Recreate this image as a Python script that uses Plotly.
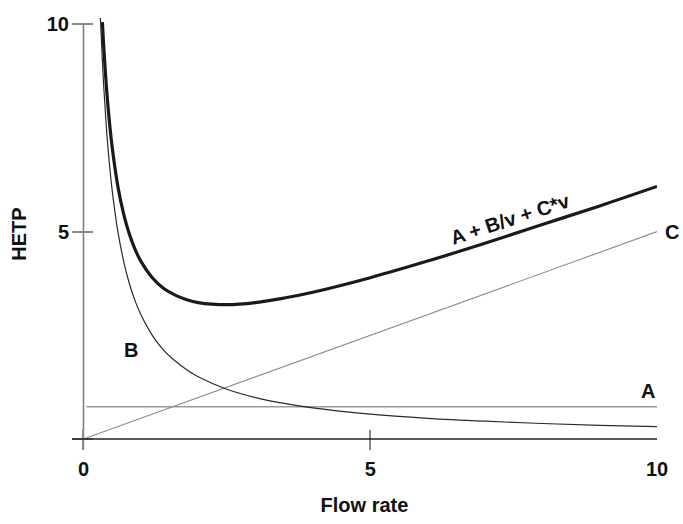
import plotly.graph_objects as go

# Flow rate samples
v_b = [0.29, 0.30, 0.35, 0.40, 0.45, 0.50, 0.60, 0.70, 0.80, 0.90, 1.0, 1.2, 1.4, 1.6, 1.8,
       2.0, 2.5, 3.0, 3.5, 4.0, 5.0, 6.0, 7.0, 8.0, 9.0, 10.0]
hetp_b = [10.3, 10.0, 8.57, 7.5, 6.67, 6.0, 5.0, 4.29, 3.75, 3.33, 3.0, 2.5, 2.14, 1.88, 1.67,
          1.5, 1.2, 1.0, 0.86, 0.75, 0.6, 0.5, 0.43, 0.375, 0.33, 0.3]

v_tot = [0.33, 0.35, 0.40, 0.45, 0.50, 0.60, 0.70, 0.80, 0.90, 1.0, 1.2, 1.4, 1.6, 1.8,
         2.0, 2.5, 3.0, 3.5, 4.0, 5.0, 6.0, 7.0, 8.0, 9.0, 10.0]
hetp_tot = [10.05, 9.54, 8.49, 7.68, 7.04, 6.09, 5.43, 4.94, 4.57, 4.29, 3.89, 3.63, 3.47, 3.36,
            3.29, 3.24, 3.29, 3.40, 3.54, 3.89, 4.29, 4.72, 5.17, 5.62, 6.09]

v_c = [0.0, 10.0]
hetp_c = [0.0, 5.0]

v_a = [0.05, 10.0]
hetp_a = [0.78, 0.78]

x_ticks = [0, 5, 10]
x_ticklabels = ["0", "5", "10"]
y_ticks = [0, 5, 10]
y_ticklabels = ["", "5", "10"]

X_MIN, X_MAX = -0.2, 10.0
Y_MIN, Y_MAX = -0.264, 10.15

FONT = "Liberation Sans"
SIZE = 20

fig = go.Figure()
fig.add_trace(go.Scatter(x=v_a, y=hetp_a, mode="lines",
                         line=dict(color="#9a9a9a", width=1.6), hoverinfo="skip"))
fig.add_trace(go.Scatter(x=v_c, y=hetp_c, mode="lines",
                         line=dict(color="#8c8c8c", width=1.1), hoverinfo="skip"))
fig.add_trace(go.Scatter(x=v_b, y=hetp_b, mode="lines", line_shape="spline",
                         line=dict(color="#2a2a2a", width=1.2), hoverinfo="skip"))
fig.add_trace(go.Scatter(x=v_tot, y=hetp_tot, mode="lines", line_shape="spline",
                         line=dict(color="#1a1a1a", width=3.2), hoverinfo="skip"))

# axis lines
fig.add_shape(type="line", xref="x", yref="y", x0=0, x1=0, y0=Y_MIN, y1=10,
              line=dict(color="#7a7a7a", width=1.5), layer="below")
fig.add_shape(type="line", xref="x", yref="y", x0=X_MIN, x1=10, y0=0, y1=0,
              line=dict(color="#222222", width=1.6), layer="above")

lab = dict(family=FONT, size=SIZE, color="#111111", weight="bold")
fig.add_annotation(x=7.44, y=5.30, xref="x", yref="y", text="A + B/v + C*v",
                   showarrow=False, textangle=-18, font=lab)
fig.add_annotation(x=0.83, y=2.14, xref="x", yref="y", text="B",
                   showarrow=False, font=lab)
fig.add_annotation(x=9.84, y=1.15, xref="x", yref="y", text="A",
                   showarrow=False, font=lab)
fig.add_annotation(x=(10.42 - X_MIN) / (X_MAX - X_MIN), y=4.99, xref="paper", yref="y",
                   text="C", showarrow=False, font=lab)

fig.update_layout(
    width=683, height=524,
    margin=dict(l=72, r=26, t=18, b=72),
    paper_bgcolor="white", plot_bgcolor="white",
    showlegend=False,
    font=dict(family=FONT, size=SIZE, color="#111111", weight="bold"),
    xaxis=dict(range=[X_MIN, X_MAX], tickvals=x_ticks, ticktext=x_ticklabels,
               ticks="inside", ticklen=20, tickwidth=1.5, tickcolor="#8a8a8a",
               ticklabelstandoff=5,
               tickfont=dict(family=FONT, size=SIZE, color="#111111", weight="bold"),
               showgrid=False, zeroline=False, showline=False,
               title=dict(text="Flow rate", standoff=18,
                          font=dict(family=FONT, size=SIZE, color="#111111", weight="bold"))),
    yaxis=dict(range=[Y_MIN, Y_MAX], tickvals=y_ticks, ticktext=y_ticklabels,
               ticks="inside", ticklen=21, tickwidth=1.5, tickcolor="#8a8a8a",
               ticklabelstandoff=2,
               tickfont=dict(family=FONT, size=SIZE, color="#111111", weight="bold"),
               showgrid=False, zeroline=False, showline=False,
               title=dict(text="HETP", standoff=14,
                          font=dict(family=FONT, size=SIZE, color="#111111", weight="bold"))),
)

fig.write_html("out.html")
